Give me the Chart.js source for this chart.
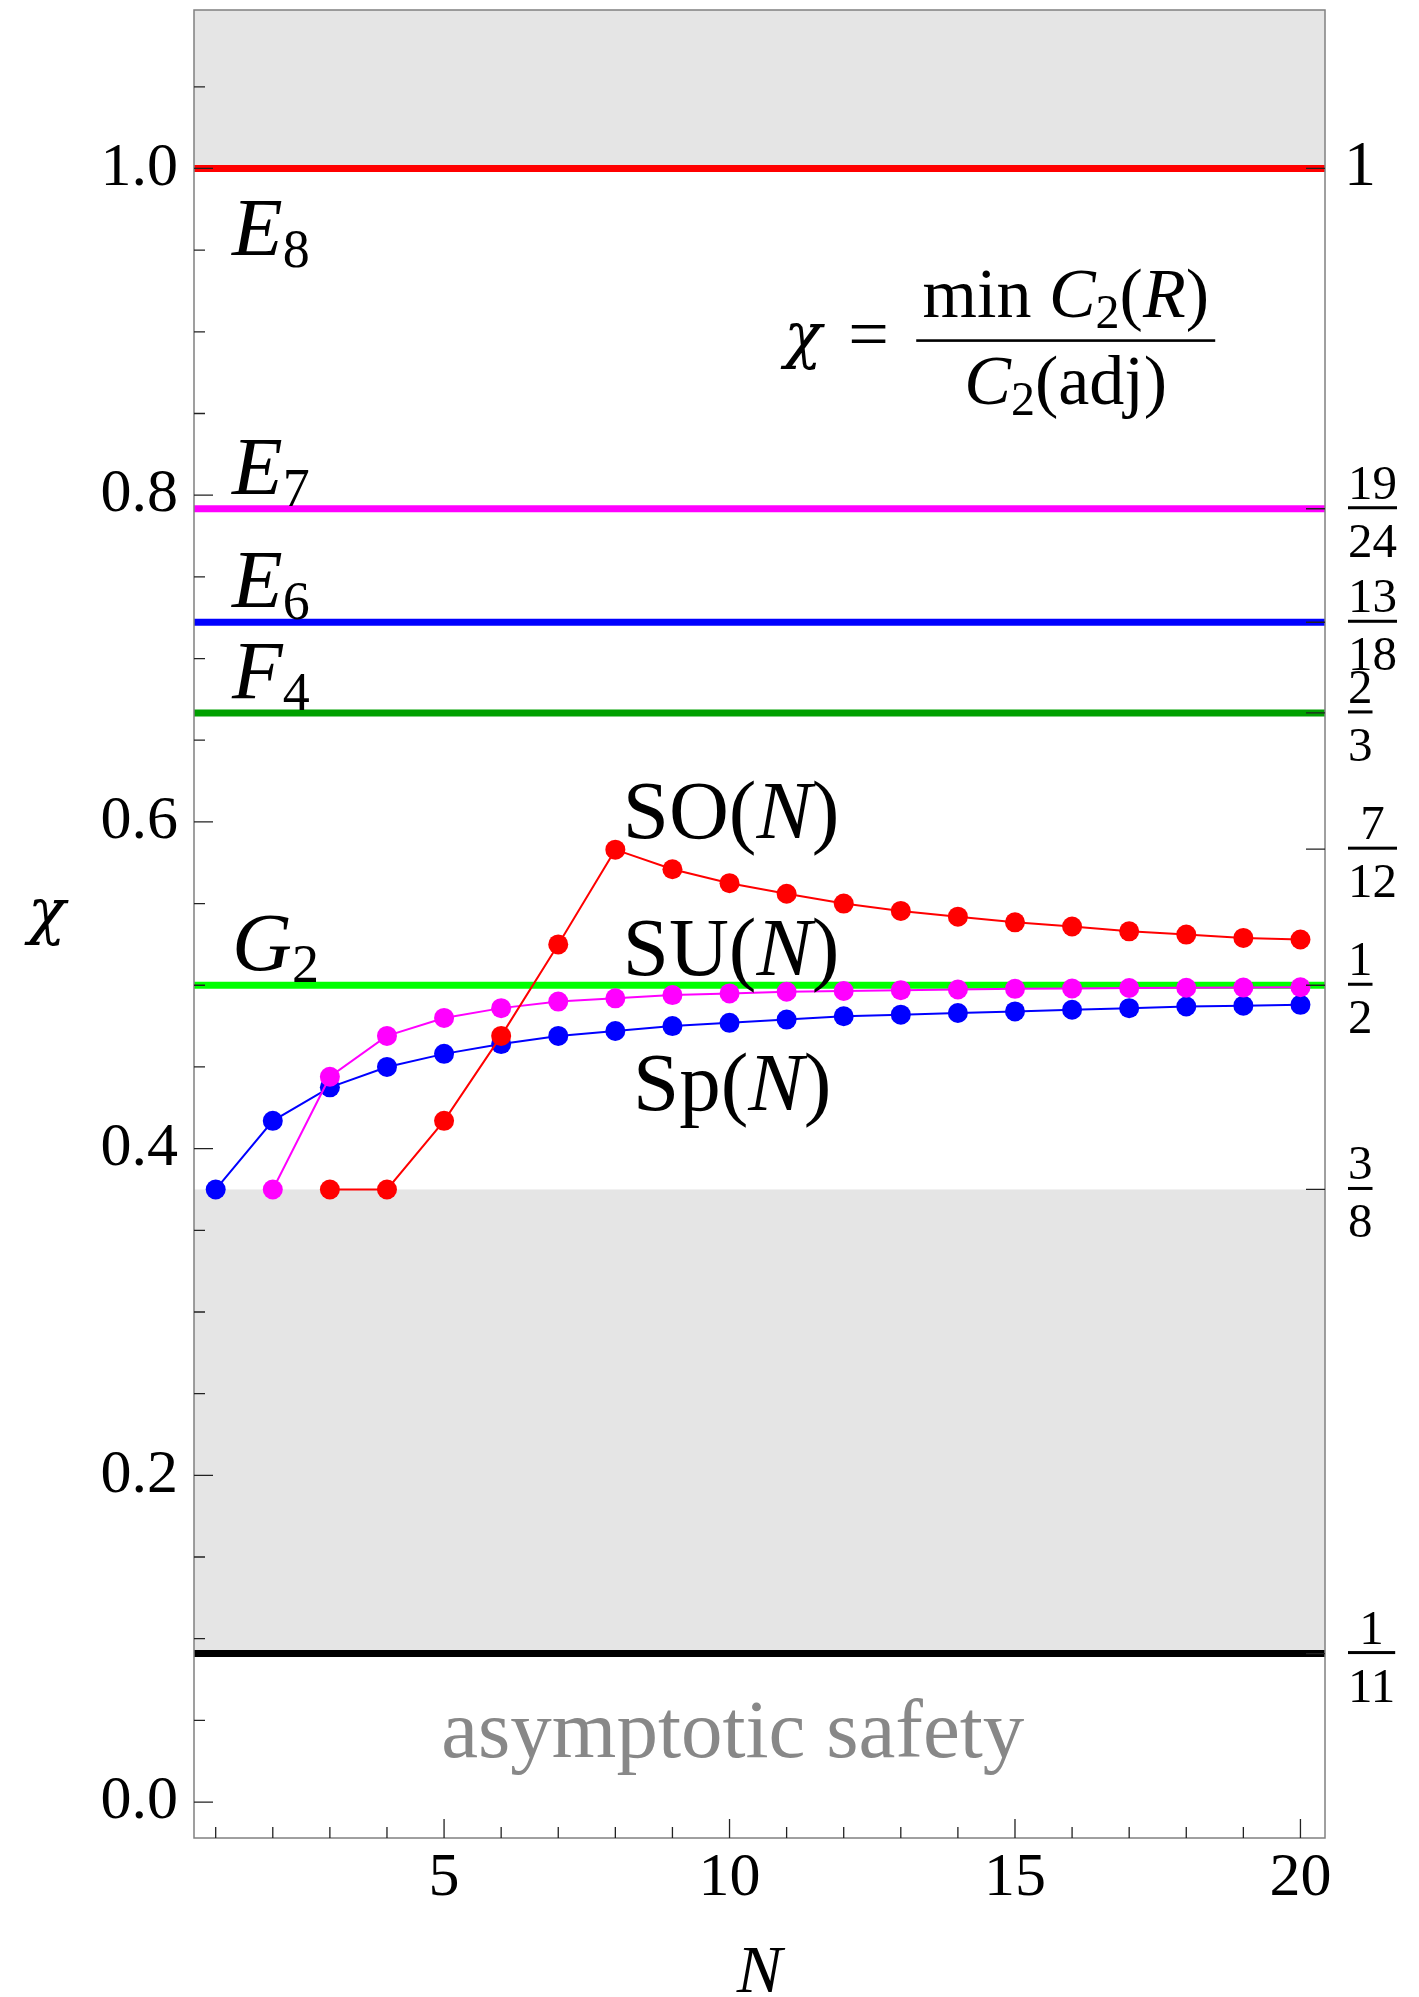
<!DOCTYPE html>
<html>
<head>
<meta charset="utf-8">
<script src="https://cdn.jsdelivr.net/npm/chart.js@4.4.1/dist/chart.umd.min.js"></script>
<style>
  html, body { margin: 0; padding: 0; background: #fff; }
  canvas { display: block; }
</style>
</head>
<body>
<canvas id="chart" width="1419" height="1997"></canvas>
<script>
// values
const nSp = [1, 2, 3, 4, 5, 6, 7, 8, 9, 10, 11, 12, 13, 14, 15, 16, 17, 18, 19, 20];
const chiSp = [0.375, 0.417, 0.4375, 0.45, 0.458, 0.464, 0.469, 0.472, 0.475, 0.477,
               0.479, 0.481, 0.482, 0.483, 0.484, 0.485, 0.486, 0.487, 0.4875, 0.488];
const nSU = [2, 3, 4, 5, 6, 7, 8, 9, 10, 11, 12, 13, 14, 15, 16, 17, 18, 19, 20];
const chiSU = [0.375, 0.444, 0.469, 0.48, 0.486, 0.49, 0.492, 0.494, 0.495, 0.496,
               0.4965, 0.497, 0.4974, 0.4978, 0.498, 0.4983, 0.4985, 0.4986, 0.4988];
const nSO = [3, 4, 5, 6, 7, 8, 9, 10, 11, 12, 13, 14, 15, 16, 17, 18, 19, 20];
const chiSO = [0.375, 0.375, 0.417, 0.469, 0.525, 0.583, 0.571, 0.5625, 0.556, 0.55,
               0.5455, 0.542, 0.5385, 0.536, 0.533, 0.531, 0.529, 0.528];

// exceptional groups
const groupLetters = ['E', 'E', 'E', 'F', 'G'];
const groupRanks = ['8', '7', '6', '4', '2'];
const groupChi = [1, 0.7917, 0.7222, 0.6667, 0.5];
const safetyBound = 0.0909;

const shadedBands = [[1, 1.097], [0.0909, 0.375]];

const xMajorTicks = [5, 10, 15, 20];
const xMinorTicks = [1, 2, 3, 4, 6, 7, 8, 9, 11, 12, 13, 14, 16, 17, 18, 19];
const yMajorTicks = [0, 0.2, 0.4, 0.6, 0.8, 1.0];
const yMinorTicks = [0.05, 0.1, 0.15, 0.25, 0.3, 0.35, 0.45, 0.5, 0.55, 0.65, 0.7, 0.75, 0.85, 0.9, 0.95, 1.05];

const rightTickValues = [1, 0.7917, 0.7222, 0.6667, 0.5833, 0.5, 0.375, 0.0909];
const rightTickNum = ['1', '19', '13', '2', '7', '1', '3', '1'];
const rightTickDen = ['', '24', '18', '3', '12', '2', '8', '11'];

const X_MIN = 0.62, X_MAX = 20.43;
const Y_MIN = -0.022, Y_MAX = 1.097;

const SERIF = '"Liberation Serif", "Times New Roman", serif';
const GREEK = '"DejaVu Serif", serif';
const groupColors = ['#ff0000', '#ff00ff', '#0000ff', '#00a000', '#00ff00'];

function runs(ctx, x, y, parts) {
    // parts: [text, font, dy]
    let cx = x;
    for (const [t, f, dy] of parts) {
        ctx.font = f;
        ctx.fillText(t, cx, y + (dy || 0));
        cx += ctx.measureText(t).width;
    }
    return cx - x;
}

function runsWidth(ctx, parts) {
    let w = 0;
    for (const [t, f] of parts) {
        ctx.font = f;
        w += ctx.measureText(t).width;
    }
    return w;
}

const decorations = {
    id: 'decorations',
    beforeDatasetsDraw(chart) {
        const { ctx, chartArea: a, scales: { y } } = chart;
        ctx.save();
        ctx.fillStyle = '#e5e5e5';
        shadedBands.forEach(([lo, hi]) => {
            const top = y.getPixelForValue(hi);
            const bot = y.getPixelForValue(lo);
            ctx.fillRect(a.left, top, a.right - a.left, bot - top);
        });
        ctx.restore();
    },
    afterDatasetsDraw(chart) {
        const { ctx, chartArea: a, scales: { x, y } } = chart;
        ctx.save();

        // frame
        ctx.strokeStyle = '#808080';
        ctx.lineWidth = 1.5;
        ctx.strokeRect(a.left, a.top, a.right - a.left, a.bottom - a.top);

        // inward ticks
        ctx.strokeStyle = '#222';
        ctx.lineWidth = 1.3;
        ctx.beginPath();
        yMajorTicks.forEach(v => { const p = y.getPixelForValue(v); ctx.moveTo(a.left, p); ctx.lineTo(a.left + 19, p); });
        yMinorTicks.forEach(v => { const p = y.getPixelForValue(v); ctx.moveTo(a.left, p); ctx.lineTo(a.left + 11, p); });
        xMajorTicks.forEach(v => { const p = x.getPixelForValue(v); ctx.moveTo(p, a.bottom); ctx.lineTo(p, a.bottom - 19); });
        xMinorTicks.forEach(v => { const p = x.getPixelForValue(v); ctx.moveTo(p, a.bottom); ctx.lineTo(p, a.bottom - 11); });
        rightTickValues.forEach(v => { const p = y.getPixelForValue(v); ctx.moveTo(a.right, p); ctx.lineTo(a.right - 19, p); });
        ctx.stroke();

        ctx.fillStyle = '#000';
        ctx.textAlign = 'left';
        ctx.textBaseline = 'alphabetic';

        // right-hand fractions
        const fx = a.right + 23;
        rightTickValues.forEach((v, i) => {
            const p = y.getPixelForValue(v);
            if (!rightTickDen[i]) {
                ctx.font = '64px ' + SERIF;
                ctx.textBaseline = 'middle';
                ctx.fillText(rightTickNum[i], fx - 4, p);
                ctx.textBaseline = 'alphabetic';
                return;
            }
            ctx.font = '49px ' + SERIF;
            const wn = ctx.measureText(rightTickNum[i]).width;
            const wd = ctx.measureText(rightTickDen[i]).width;
            const w = Math.max(wn, wd);
            ctx.fillRect(fx, p - 2.5, w, 3);
            ctx.fillText(rightTickNum[i], fx + (w - wn) / 2, p - 10);
            ctx.fillText(rightTickDen[i], fx + (w - wd) / 2, p + 48);
        });

        // group labels
        const big = '83px ' + SERIF, bigI = 'italic 83px ' + SERIF, sub = '54px ' + SERIF;
        groupChi.forEach((v, i) => {
            const p = y.getPixelForValue(v);
            const base = i === 0 ? p + 87 : p - 15;
            runs(ctx, a.left + 38, base, [[groupLetters[i], bigI], [groupRanks[i], sub, 12]]);
        });

        const lab = (nx, vy, parts) => runs(ctx, x.getPixelForValue(nx), y.getPixelForValue(vy), parts);
        lab(8.13, 0.5903, [['SO(', big], ['N', bigI], [')', big]]);
        lab(8.13, 0.5065, [['SU(', big], ['N', bigI], [')', big]]);
        lab(8.31, 0.4238, [['Sp(', big], ['N', bigI], [')', big]]);

        // formula
        const bx = x.getPixelForValue(13.27), by = y.getPixelForValue(0.8947);
        const f = '70px ' + SERIF, fI = 'italic 70px ' + SERIF, fs = '48px ' + SERIF;
        runs(ctx, bx - 132, by + 16, [['\u03c7', 'italic 62px ' + GREEK]]);
        runs(ctx, bx - 68, by + 18, [['=', '72px ' + SERIF]]);
        ctx.fillRect(bx, by - 1.2, 299, 2.6);
        const num = [['min ', f], ['C', fI], ['2', fs, 11], ['(', f], ['R', fI], [')', f]];
        const den = [['C', fI], ['2', fs, 11], ['(adj)', f]];
        runs(ctx, bx + (299 - runsWidth(ctx, num)) / 2, by - 23, num);
        runs(ctx, bx + (299 - runsWidth(ctx, den)) / 2, by + 64, den);

        // asymptotic safety
        ctx.fillStyle = '#888';
        lab(4.95, 0.0276, [['asymptotic safety', big]]);

        // axis titles
        ctx.fillStyle = '#000';
        ctx.font = 'italic 62px ' + GREEK;
        ctx.fillText('\u03c7', 28, 932);
        ctx.textAlign = 'center';
        ctx.font = 'italic 68px ' + SERIF;
        ctx.fillText('N', (a.left + a.right) / 2, 1992);

        ctx.restore();
    }
};

function series(nArr, chiArr, color) {
    return {
        data: nArr.map((n, i) => ({ x: n, y: chiArr[i] })),
        borderColor: color,
        backgroundColor: color,
        borderWidth: 2,
        pointRadius: 10,
        pointBorderWidth: 0,
        pointBackgroundColor: color,
        showLine: true,
        order: 0
    };
}

function hline(v, color) {
    return {
        data: [{ x: X_MIN, y: v }, { x: X_MAX, y: v }],
        borderColor: color,
        borderWidth: 7,
        pointRadius: 0,
        showLine: true,
        order: 1
    };
}

const datasets = [
    series(nSO, chiSO, '#ff0000'),
    series(nSU, chiSU, '#ff00ff'),
    series(nSp, chiSp, '#0000ff'),
    ...groupChi.map((v, i) => hline(v, groupColors[i])),
    hline(safetyBound, '#000000')
];

new Chart(document.getElementById('chart'), {
    type: 'line',
    data: { datasets },
    options: {
        responsive: false,
        devicePixelRatio: 1,
        animation: false,
        layout: { padding: { top: 10, right: 94, bottom: 0, left: 0 } },
        plugins: { legend: { display: false }, tooltip: { enabled: false } },
        scales: {
            x: {
                type: 'linear',
                min: X_MIN,
                max: X_MAX,
                afterBuildTicks: s => { s.ticks = xMajorTicks.map(v => ({ value: v })); },
                afterFit: s => { s.height = 159; s.paddingLeft = 0; s.paddingRight = 0; },
                grid: { display: false, drawTicks: false },
                border: { display: false },
                ticks: { color: '#000', padding: 4, maxRotation: 0, font: { family: SERIF, size: 62 } }
            },
            y: {
                type: 'linear',
                min: Y_MIN,
                max: Y_MAX,
                afterBuildTicks: s => { s.ticks = yMajorTicks.map(v => ({ value: v })); },
                afterFit: s => { s.width = 194; s.paddingTop = 0; s.paddingBottom = 0; },
                grid: { display: false, drawTicks: false },
                border: { display: false },
                ticks: {
                    color: '#000', padding: 16, font: { family: SERIF, size: 62 },
                    callback: v => v.toFixed(1)
                }
            }
        }
    },
    plugins: [decorations]
});
</script>
</body>
</html>
